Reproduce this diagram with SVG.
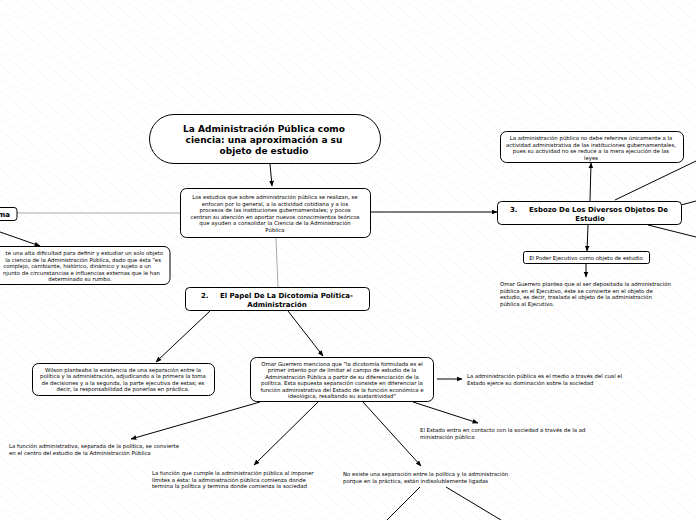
<svg xmlns="http://www.w3.org/2000/svg" width="696" height="520" viewBox="0 0 696 520">
<style>
.n{fill:#fff;stroke:#000;stroke-width:1}
.t{font-family:"DejaVu Sans",Verdana,sans-serif;font-size:5.4px;fill:#000}
.c{text-anchor:middle}
.b{font-family:"DejaVu Sans",Verdana,sans-serif;font-weight:bold;fill:#000}
.l{fill:none;stroke:#000;stroke-width:1}
.g{fill:none;stroke:#aaa;stroke-width:1}
</style>
<defs>
<pattern id="hatch" width="10" height="10" patternUnits="userSpaceOnUse" patternTransform="rotate(-50)">
<line x1="0" y1="0" x2="0" y2="10" stroke="#f0f0f0" stroke-width="1"/>
</pattern>
<marker id="a" viewBox="0 0 10 10" refX="9" refY="5" markerWidth="6" markerHeight="6" orient="auto-start-reverse" markerUnits="userSpaceOnUse">
<path d="M0,1 L10,5 L0,9 z" fill="#000"/>
</marker>
</defs>
<rect width="696" height="520" fill="#fff"/>
<rect width="696" height="520" fill="url(#hatch)"/>

<g id="connectors">
<line class="l" x1="270" y1="164" x2="272" y2="186" marker-end="url(#a)"/>
<line class="g" x1="180" y1="213" x2="17" y2="213"/>
<line class="l" x1="0" y1="232" x2="40" y2="246" marker-end="url(#a)"/>
<line class="g" x1="276" y1="238" x2="278" y2="287"/>
<line class="l" x1="370" y1="212" x2="497" y2="212" marker-end="url(#a)"/>
<line class="l" x1="590" y1="201" x2="591" y2="163" marker-end="url(#a)"/>
<line class="l" x1="615" y1="200" x2="696" y2="161"/>
<line class="l" x1="681" y1="205" x2="696" y2="201"/>
<line class="l" x1="648" y1="225" x2="696" y2="237"/>
<line class="l" x1="588" y1="225" x2="587" y2="251" marker-end="url(#a)"/>
<line class="l" x1="586" y1="264" x2="586" y2="277" marker-end="url(#a)"/>
<line class="l" x1="210" y1="311" x2="156" y2="362" marker-end="url(#a)"/>
<line class="l" x1="288" y1="311" x2="323" y2="356" marker-end="url(#a)"/>
<line class="l" x1="437" y1="379" x2="462" y2="379" marker-end="url(#a)"/>
<line class="l" x1="413" y1="402" x2="478" y2="423" marker-end="url(#a)"/>
<line class="l" x1="260" y1="402" x2="131" y2="439" marker-end="url(#a)"/>
<line class="l" x1="318" y1="402" x2="254" y2="465" marker-end="url(#a)"/>
<line class="l" x1="363" y1="402" x2="421" y2="466" marker-end="url(#a)"/>
<line class="l" x1="420" y1="487" x2="387" y2="520"/>
<line class="l" x1="446" y1="487" x2="501" y2="520"/>
</g>

<g id="title">
<rect class="n" x="149.5" y="114.5" width="231" height="49" rx="24.5" stroke-width="1.5"/>
<text class="b c" font-size="9" x="264" y="132">La Administración Pública como</text>
<text class="b c" font-size="9" x="264" y="143">ciencia: una aproximación a su</text>
<text class="b c" font-size="9" x="264" y="154">objeto de estudio</text>
</g>

<g id="center">
<rect class="n" x="180.5" y="188.5" width="190" height="49" rx="6"/>
<text class="t c" x="275" y="199">Los estudios que sobre administración pública se realizan, se</text>
<text class="t c" x="275" y="205.5">enfocan por lo general, a la actividad cotidiana y a los</text>
<text class="t c" x="275" y="212">procesos de las instituciones gubernamentales; y pocos</text>
<text class="t c" x="275" y="218.5">centran su atención en aportar nuevos conocimientos teóricos</text>
<text class="t c" x="275" y="225">que ayuden a consolidar la Ciencia de la Administración</text>
<text class="t c" x="275" y="231.5">Pública</text>
</g>

<g id="left-node">
<rect class="n" x="-60" y="207.5" width="77" height="13" rx="3"/>
<text class="b" font-size="7" x="10" y="216.5" text-anchor="end">ma</text>
</g>

<g id="left-text">
<rect class="n" x="-20" y="246.5" width="190" height="38" rx="6"/>
<text class="t" x="163" y="255" text-anchor="end">te una alta dificultad para definir y estudiar un solo objeto</text>
<text class="t" x="161" y="261.5" text-anchor="end">la ciencia de la Administración Pública, dado que ésta "es</text>
<text class="t" x="151" y="268" text-anchor="end">complejo, cambiante, histórico, dinámico y sujeto a un</text>
<text class="t" x="160" y="274.5" text-anchor="end">njunto de circunstancias e influencias externas que le han</text>
<text class="t c" x="80" y="281">determinado su rumbo.</text>
</g>

<g id="right-top">
<rect class="n" x="500.5" y="131.5" width="183" height="31" rx="6"/>
<text class="t c" x="591" y="140">La administración pública no debe referirse únicamente a la</text>
<text class="t c" x="591" y="146.5">actividad administrativa de las instituciones gubernamentales,</text>
<text class="t c" x="591" y="153">pues su actividad no se reduce a la mera ejecución de las</text>
<text class="t c" x="591" y="159.5">leyes</text>
</g>

<g id="node3">
<rect class="n" x="497.5" y="201.5" width="184" height="23" rx="4"/>
<text class="b" font-size="7" x="510" y="211.5">3.</text>
<text class="b" font-size="7" x="529" y="211.5">Esbozo De Los Diversos Objetos De</text>
<text class="b c" font-size="7" x="590" y="220.5">Estudio</text>
</g>

<g id="poder">
<rect class="n" x="523.5" y="251.5" width="126" height="12" rx="2"/>
<text class="t c" x="586" y="259.5">El Poder Ejecutivo como objeto de estudio</text>
</g>

<g id="poder-text">
<text class="t" x="500" y="286">Omar Guerrero plantea que al ser depositada la administración</text>
<text class="t" x="500" y="292.5">pública en el Ejecutivo, éste se convierte en el objeto de</text>
<text class="t" x="500" y="299">estudio, es decir, traslada el objeto de la administración</text>
<text class="t" x="500" y="305.5">pública al Ejecutivo.</text>
</g>

<g id="node2">
<rect class="n" x="185.5" y="287.5" width="184" height="23" rx="4"/>
<text class="b" font-size="7" x="201" y="297.5">2.</text>
<text class="b" font-size="7" x="220" y="297.5">El Papel De La Dicotomía Política-</text>
<text class="b c" font-size="7" x="277" y="306.5">Administración</text>
</g>

<g id="wilson">
<rect class="n" x="32.5" y="363.5" width="182" height="32" rx="6"/>
<text class="t c" x="123" y="371.5">Wilson planteaba la existencia de una separación entre la</text>
<text class="t c" x="123" y="378">política y la administración, adjudicando a la primera la toma</text>
<text class="t c" x="123" y="384.5">de decisiones y a la segunda, la parte ejecutiva de estas; es</text>
<text class="t c" x="123" y="391">decir, la responsabilidad de ponerlas en práctica.</text>
</g>

<g id="omar">
<rect class="n" x="250.5" y="357.5" width="183" height="44" rx="6"/>
<text class="t c" x="342" y="365.5">Omar Guerrero menciona que "la dicotomía formulada es el</text>
<text class="t c" x="342" y="372">primer intento por de limitar el campo de estudio de la</text>
<text class="t c" x="342" y="378.5">Administración Pública a partir de su diferenciación de la</text>
<text class="t c" x="342" y="385">política. Esta supuesta separación consiste en diferenciar la</text>
<text class="t c" x="342" y="391.5">función administrativa del Estado de la función económica e</text>
<text class="t c" x="342" y="398">ideológica, resaltando su sustantividad"</text>
</g>

<g id="dominacion">
<text class="t" x="467" y="378">La administración pública es el medio a través del cual el</text>
<text class="t" x="467" y="384.5">Estado ejerce su dominación sobre la sociedad</text>
</g>

<g id="contacto">
<text class="t" x="420" y="432">El Estado entra en contacto con la sociedad a través de la ad</text>
<text class="t" x="420" y="438.5">ministración pública</text>
</g>

<g id="funcion">
<text class="t" x="9" y="448">La función administrativa, separada de la política, se convierte</text>
<text class="t" x="9" y="454.5">en el centro del estudio de la Administración Pública</text>
</g>

<g id="limites">
<text class="t" x="152" y="475">La función que cumple la administración pública al imponer</text>
<text class="t" x="152" y="481.5">límites a ésta: la administración pública comienza donde</text>
<text class="t" x="152" y="488">termina la política y termina donde comienza la sociedad</text>
</g>

<g id="separacion">
<text class="t" x="343" y="476">No existe una separación entre la política y la administración</text>
<text class="t" x="343" y="482.5">porque en la práctica, están indisolublemente ligadas</text>
</g>
</svg>
